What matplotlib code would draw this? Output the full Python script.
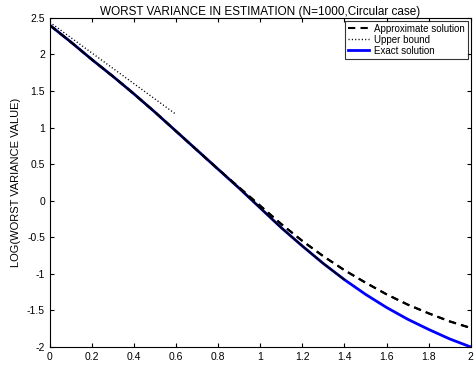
import numpy as np
import matplotlib
matplotlib.use('Agg')
import matplotlib.pyplot as plt

plt.rcParams['font.family'] = ['Liberation Sans', 'DejaVu Sans']

# values
x_vals = [0.0, 0.1, 0.2, 0.3, 0.4, 0.5, 0.6, 0.7, 0.8, 0.9, 1.0,
          1.1, 1.2, 1.3, 1.4, 1.5, 1.6, 1.7, 1.8, 1.9, 2.0]
y_exact = [2.40, 2.17, 1.93, 1.70, 1.46, 1.21, 0.95, 0.69, 0.43, 0.17, -0.10,
           -0.37, -0.62, -0.86, -1.08, -1.28, -1.46, -1.62, -1.76, -1.89, -2.00]
y_approx = [2.40, 2.17, 1.93, 1.70, 1.46, 1.21, 0.95, 0.69, 0.43, 0.18, -0.07,
            -0.32, -0.55, -0.76, -0.95, -1.12, -1.28, -1.42, -1.54, -1.65, -1.74]

x_upper = [0.0, 0.2, 0.4, 0.6]
y_upper = [2.44, 2.02, 1.60, 1.18]

# the exact curve is overdrawn in thin black up to this index
n_black = 15

xticks = [0, 0.2, 0.4, 0.6, 0.8, 1, 1.2, 1.4, 1.6, 1.8, 2]
xtick_labels = ['0', '0.2', '0.4', '0.6', '0.8', '1', '1.2', '1.4', '1.6', '1.8', '2']
yticks = [-2, -1.5, -1, -0.5, 0, 0.5, 1, 1.5, 2, 2.5]
ytick_labels = ['-2', '-1.5', '-1', '-0.5', '0', '0.5', '1', '1.5', '2', '2.5']

fig = plt.figure(figsize=(4.75, 3.66), dpi=100)
ax = fig.add_axes([0.105, 0.052, 0.886, 0.899])

ax.plot(x_vals, y_approx, color='k', ls='--', dashes=(3.5, 2.5), lw=1.5,
        label='Approximate solution')
ax.plot(x_upper, y_upper, color='k', ls=(0, (0.8, 1.6)), lw=1.0, label='Upper bound')
ax.plot(x_vals, y_exact, color='#0000ff', lw=2, label='Exact solution')
ax.plot(x_vals[:n_black], y_exact[:n_black], color='k', lw=1.3)
# dashed line again on top so it stays visible
ax.plot(x_vals, y_approx, color='k', ls='--', dashes=(3.5, 2.5), lw=1.5)

ax.set_xlim(0, 2)
ax.set_ylim(-2, 2.5)
ax.set_xticks(xticks)
ax.set_xticklabels(xtick_labels)
ax.set_yticks(yticks)
ax.set_yticklabels(ytick_labels)
ax.tick_params(direction='in', top=True, right=True, labelsize=7.5, length=3, width=0.8)
for s in ax.spines.values():
    s.set_linewidth(0.8)

ax.set_ylabel('LOG(WORST VARIANCE VALUE)', fontsize=8, labelpad=4)
ax.set_title('WORST VARIANCE IN ESTIMATION (N=1000,Circular case)', fontsize=8.5, pad=2)

leg = ax.legend(loc='upper right', fontsize=7, frameon=True, fancybox=False,
                edgecolor='k', handlelength=2.2, handletextpad=0.5,
                borderpad=0.3, labelspacing=0.1, borderaxespad=0.3)
leg.get_frame().set_linewidth(0.8)

fig.savefig('out.png', dpi=100)
